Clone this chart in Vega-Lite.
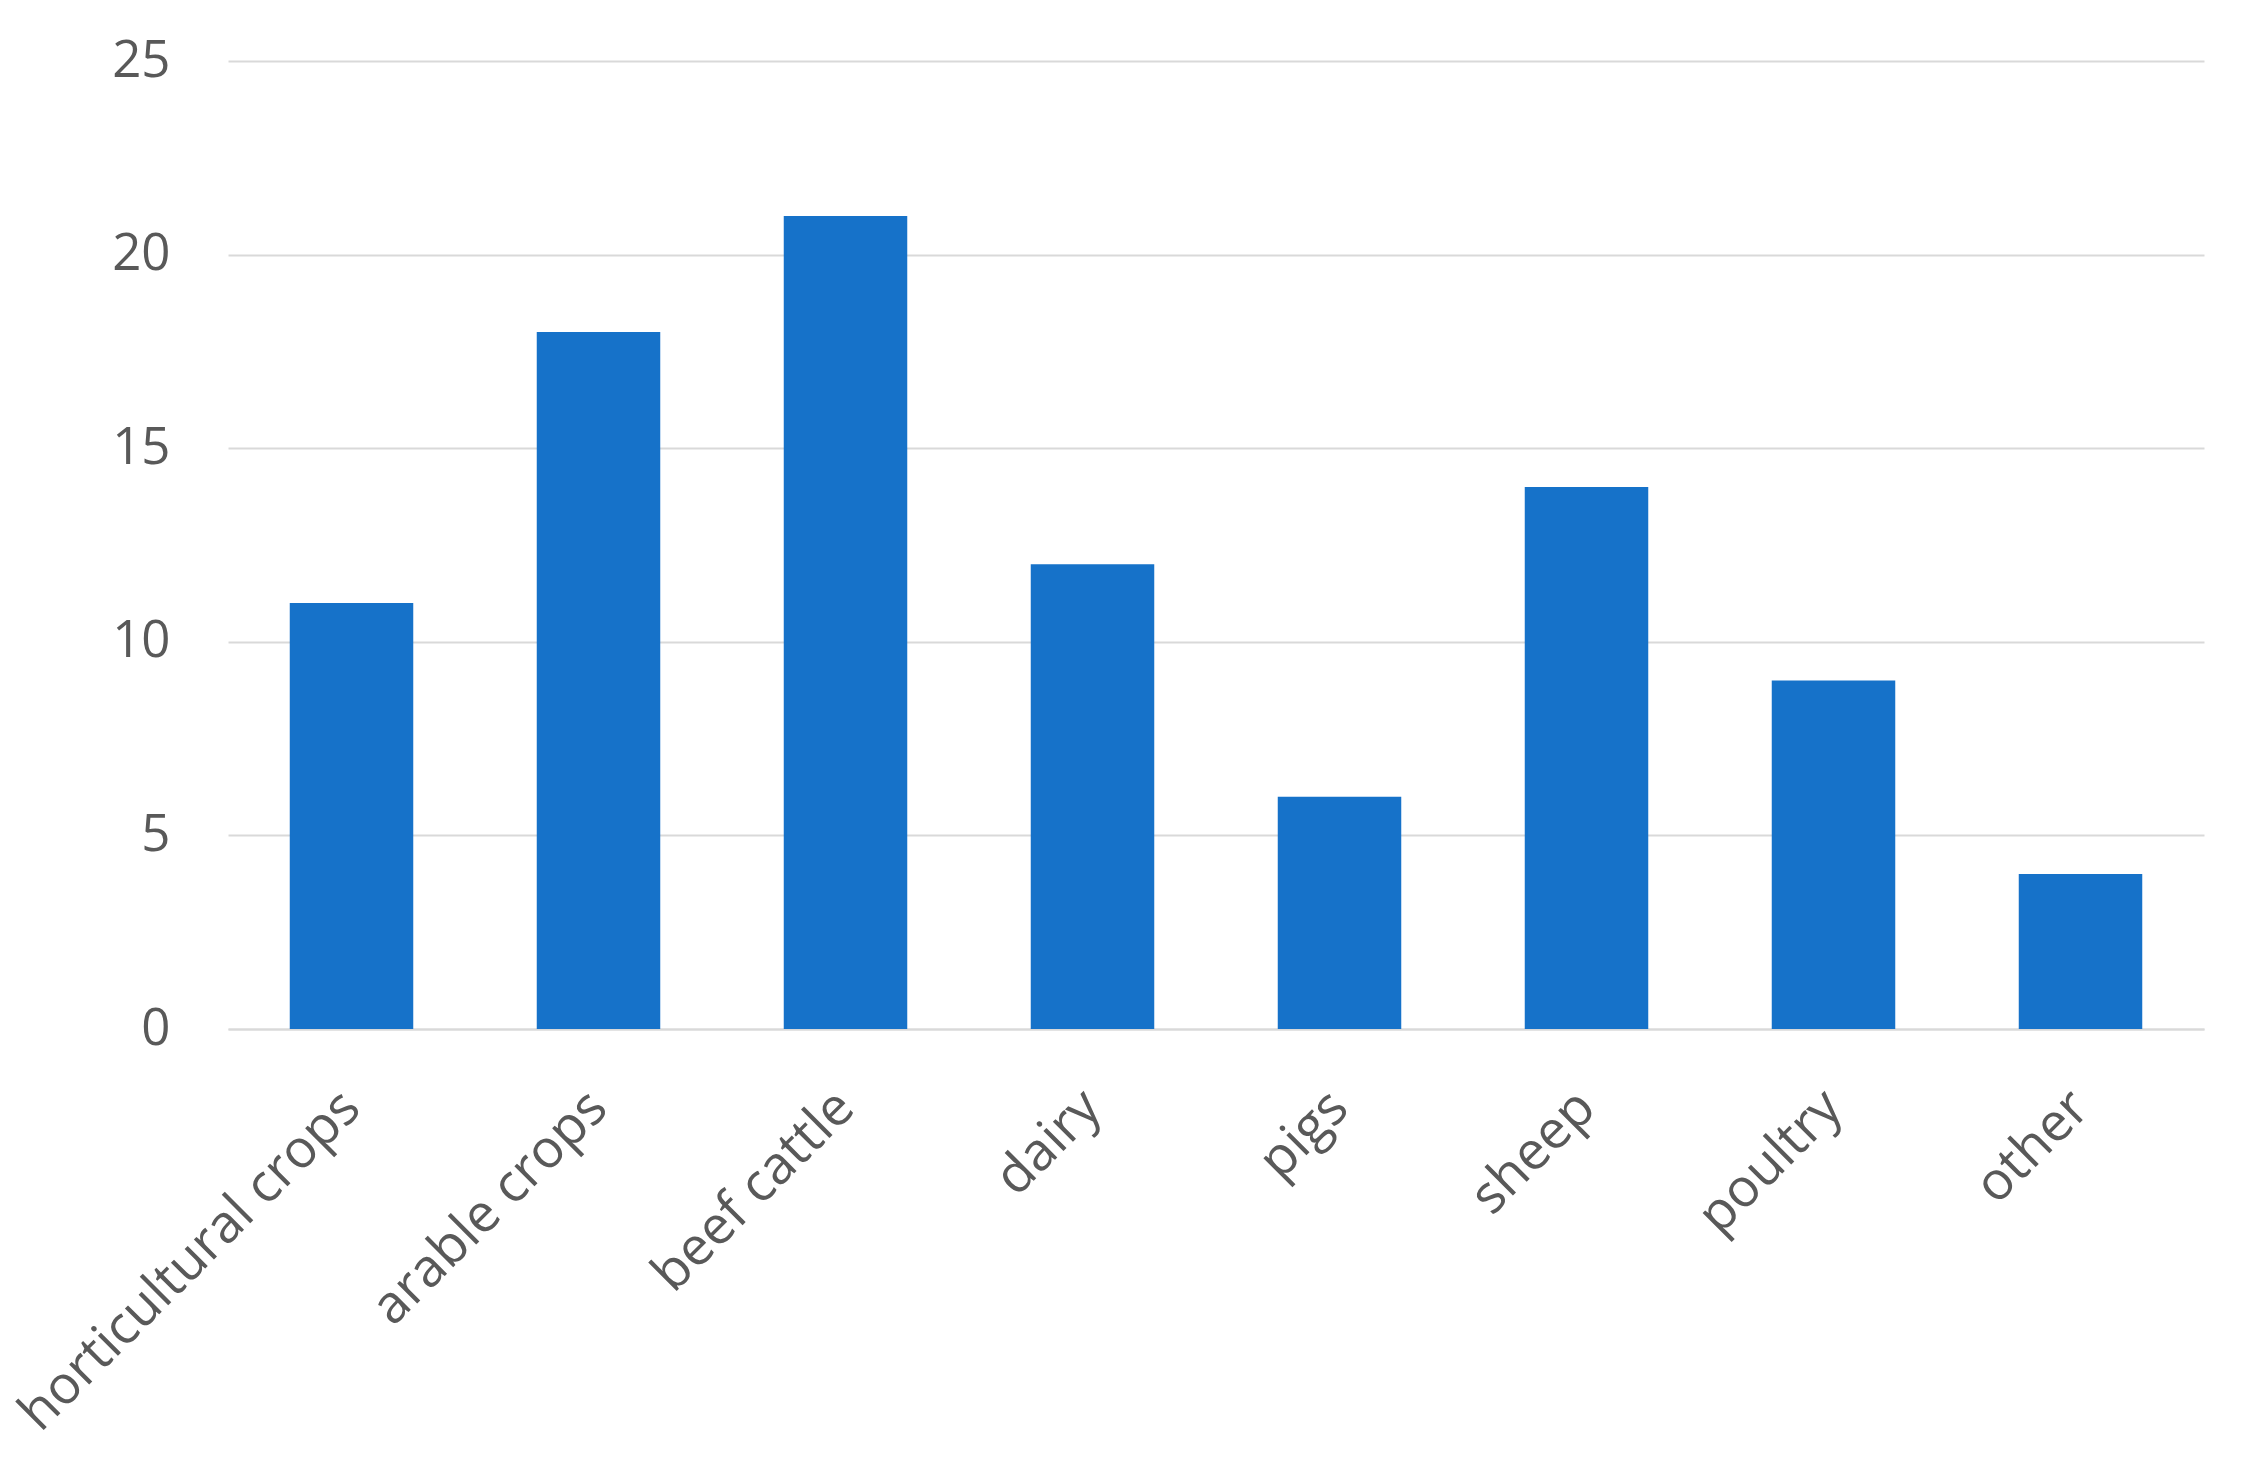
{
  "$schema": "https://vega.github.io/schema/vega-lite/v6.json",
  "autosize": "none",
  "width": 1976,
  "height": 968,
  "padding": {"left": 228, "top": 61, "right": 44, "bottom": 450},
  "background": "white",
  "data": {"values": [
    {"category": "horticultural crops", "value": 11},
    {"category": "arable crops", "value": 18},
    {"category": "beef cattle", "value": 21},
    {"category": "dairy", "value": 12},
    {"category": "pigs", "value": 6},
    {"category": "sheep", "value": 14},
    {"category": "poultry", "value": 9},
    {"category": "other", "value": 4}
  ]},
  "mark": {"type": "bar", "color": "#1672C9"},
  "encoding": {
    "x": {
      "field": "category", "type": "nominal", "sort": null,
      "scale": {"paddingInner": 0.5, "paddingOuter": 0.25},
      "axis": {
        "title": null, "labelAngle": -45, "labelAlign": "right", "labelBaseline": "middle",
        "labelPadding": 70, "labelLimit": 0, "ticks": false, "domain": true, "domainColor": "#D9D9D9", "domainWidth": 2,
        "labelFont": "Open Sans", "labelFontSize": 53, "labelColor": "#595959", "grid": false
      }
    },
    "y": {
      "field": "value", "type": "quantitative",
      "scale": {"domain": [0, 25], "nice": false},
      "axis": {
        "title": null, "values": [0, 5, 10, 15, 20, 25], "ticks": false, "domain": false,
        "labelPadding": 58, "labelFont": "Open Sans", "labelFontSize": 51, "labelColor": "#595959",
        "grid": true, "gridColor": "#D9D9D9", "gridWidth": 2
      }
    }
  },
  "config": {"view": {"stroke": null}}
}
